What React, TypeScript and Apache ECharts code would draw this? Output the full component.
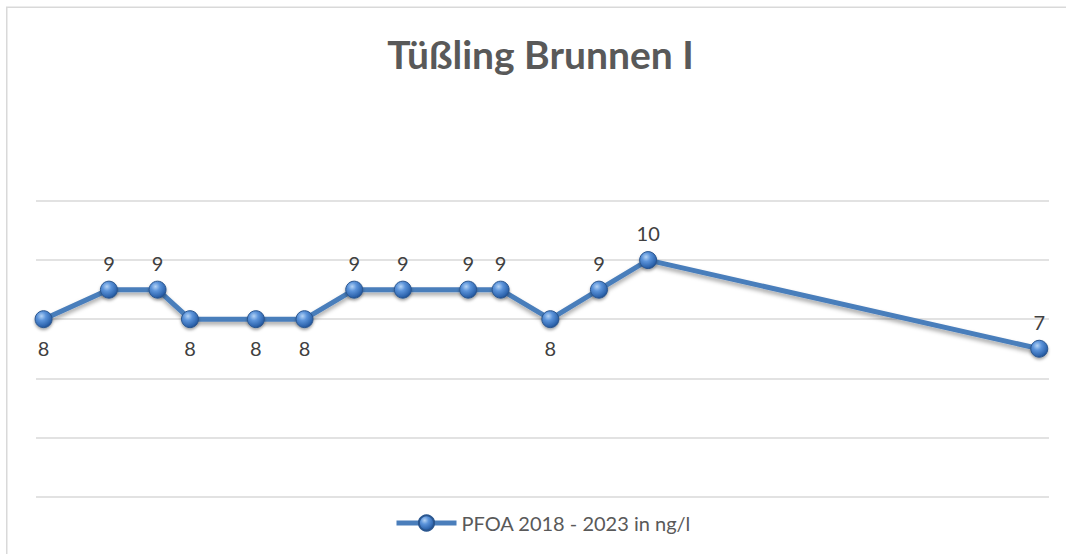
import React, { useEffect, useRef } from "react";
import * as echarts from "echarts";

const chartTitle = "Tüßling Brunnen I";
const seriesName = "PFOA 2018 - 2023 in ng/l";
const sampleDates = [
  "2018-06-15",
  "2018-10-14",
  "2019-01-12",
  "2019-03-13",
  "2019-07-13",
  "2019-10-11",
  "2020-01-11",
  "2020-04-10",
  "2020-08-09",
  "2020-10-08",
  "2021-01-08",
  "2021-04-08",
  "2021-07-08",
  "2023-07-02",
];
const pfoaValues = [8, 9, 9, 8, 8, 8, 9, 9, 9, 9, 8, 9, 10, 7];
const axisStart = "2018-06-01";
const axisEnd = "2023-07-20";
const yMin = 2;
const yMax = 12;
const yStep = 2;

// style: which side each value label sits on
const labelSides = [
  "bottom", "top", "top", "bottom", "bottom", "bottom", "top",
  "top", "top", "top", "bottom", "top", "top", "top",
];

const FONT = "Lato, 'Open Sans', sans-serif";

const sphere = new echarts.graphic.RadialGradient(0.38, 0.32, 0.75, [
  { offset: 0, color: "#b4d3f5" },
  { offset: 0.35, color: "#5b93da" },
  { offset: 0.8, color: "#2d64ad" },
  { offset: 1, color: "#1d4682" },
]);

export default function App() {
  const ref = useRef<HTMLDivElement>(null);
  useEffect(() => {
    document.body.style.margin = "0";
    const chart = echarts.init(ref.current!, null, { renderer: "svg" });
    const data = sampleDates.map((d, i) => ({
      value: [Date.parse(d), pfoaValues[i]],
      label: {
        position: labelSides[i],
        distance: labelSides[i] === "top" ? 8 : 10,
      },
    }));
    chart.setOption({
      animation: false,
      backgroundColor: "#ffffff",
      graphic: [
        {
          type: "rect",
          shape: { x: 6.75, y: 7.25, width: 1100, height: 600 },
          style: { fill: "none", stroke: "#d9d9d9", lineWidth: 1.5 },
          silent: true,
        },
        {
          type: "text",
          x: 540.5,
          y: 54,
          style: {
            text: chartTitle,
            font: `bold 39px ${FONT}`,
            fill: "#595959",
            textAlign: "center",
            textVerticalAlign: "middle",
          },
        },
      ],
      legend: {
        data: [seriesName],
        left: 389,
        top: 508,
        itemWidth: 60,
        itemHeight: 19,
        itemGap: 2,
        lineStyle: { width: 5, color: "#4a7ebb" },
        textStyle: { fontFamily: FONT, fontSize: 20, color: "#595959" },
      },
      grid: { left: 36, right: 17, top: 201, bottom: 57.5, containLabel: false },
      xAxis: {
        type: "time",
        min: Date.parse(axisStart),
        max: Date.parse(axisEnd),
        axisLine: { show: false },
        axisTick: { show: false },
        axisLabel: { show: false },
        splitLine: { show: false },
      },
      yAxis: {
        type: "value",
        min: yMin,
        max: yMax,
        interval: yStep,
        axisLine: { show: false },
        axisTick: { show: false },
        axisLabel: { show: false },
        splitLine: { show: true, lineStyle: { color: "#d9d9d9", width: 1.5 } },
      },
      series: [
        {
          name: seriesName,
          type: "line",
          data,
          symbol: "circle",
          symbolSize: 17,
          lineStyle: {
            color: "#4a7ebb",
            width: 5,
            shadowColor: "rgba(0,0,0,0.35)",
            shadowBlur: 4,
            shadowOffsetY: 3,
          },
          itemStyle: {
            color: sphere,
            borderColor: "#2a568f",
            borderWidth: 1,
            shadowColor: "rgba(0,0,0,0.35)",
            shadowBlur: 3,
            shadowOffsetY: 2,
          },
          label: {
            show: true,
            fontFamily: FONT,
            fontSize: 20,
            color: "#404040",
            formatter: (p: any) => String(p.value[1]),
          },
          emphasis: { disabled: true },
        },
      ],
    });
    return () => chart.dispose();
  }, []);
  return <div ref={ref} style={{ width: 1066, height: 554 }} />;
}
